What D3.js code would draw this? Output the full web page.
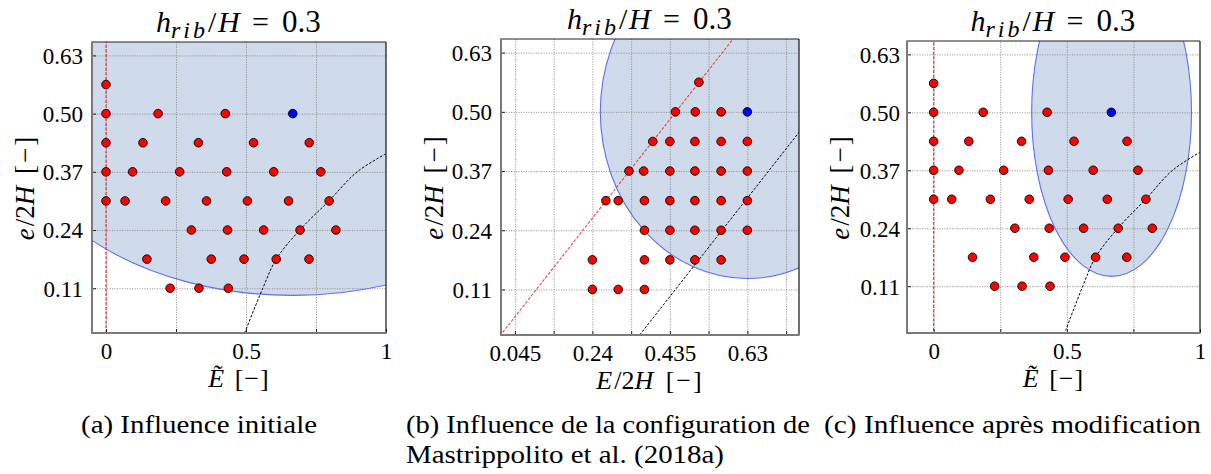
<!DOCTYPE html>
<html><head><meta charset="utf-8">
<script src="https://cdn.jsdelivr.net/npm/d3@7"></script>
<style>
body{margin:0;background:#fff}
svg{display:block}
svg text{font-family:'Liberation Serif','DejaVu Serif',serif !important;fill:#000}
</style>
</head><body>
<svg id="chart" width="1211" height="474" font-family="Liberation Serif, DejaVu Serif, serif"></svg>
<script>
// ---------------- data ----------------
const yTickValues = [0.11, 0.24, 0.37, 0.50, 0.63];
const yTickLabels = ["0.11", "0.24", "0.37", "0.50", "0.63"];
const normTickValues = [0, 0.5, 1];
const normTickLabels = ["0", "0.5", "1"];
const normGridValues = [0, 0.25, 0.5, 0.75, 1];
const rawTickValues = [0.045, 0.24, 0.435, 0.63];
const rawTickLabels = ["0.045", "0.24", "0.435", "0.63"];
const rawGridValues = [0.045, 0.1425, 0.24, 0.3375, 0.435, 0.5325, 0.63, 0.7275];

// tested configurations: e/2H, normalised E~, and E/2H
const pointE = [0.565,
  0.50, 0.50, 0.50,
  0.435, 0.435, 0.435, 0.435, 0.435,
  0.37, 0.37, 0.37, 0.37, 0.37, 0.37,
  0.305, 0.305, 0.305, 0.305, 0.305, 0.305, 0.305,
  0.24, 0.24, 0.24, 0.24, 0.24,
  0.175, 0.175, 0.175, 0.175, 0.175,
  0.11, 0.11, 0.11];
const pointNorm = [0,
  0, 0.186, 0.426,
  0, 0.132, 0.330, 0.527, 0.726,
  0, 0.095, 0.263, 0.431, 0.599, 0.767,
  0, 0.068, 0.213, 0.359, 0.505, 0.652, 0.797,
  0.305, 0.434, 0.563, 0.693, 0.821,
  0.146, 0.376, 0.493, 0.608, 0.725,
  0.229, 0.332, 0.437];
const pointRaw = [0.508,
  0.449, 0.499, 0.564,
  0.392, 0.435, 0.498, 0.564, 0.63,
  0.332, 0.369, 0.435, 0.498, 0.564, 0.63,
  0.274, 0.305, 0.371, 0.435, 0.498, 0.564, 0.63,
  0.371, 0.435, 0.498, 0.564, 0.63,
  0.24, 0.371, 0.435, 0.498, 0.564,
  0.24, 0.305, 0.371];
// reference configuration (blue)
const refE = [0.50];
const refNorm = [0.667];
const refRaw = [0.63];

// upper bound (black dashed)
const boundNormX = [0.495, 0.56, 0.608, 0.692, 0.796, 0.897, 0.999];
const boundNormY = [0.01, 0.11, 0.175, 0.24, 0.305, 0.37, 0.41];
const boundRawX = [0.359, 0.76];
const boundRawY = [0.01, 0.455];
// lower bound (red dashed)
const limNormX = [0, 0];
const limNormY = [0.0, 0.7];
const limRawX = [0.0, 0.63];
const limRawY = [0.0, 0.70];

// influence region (ellipse), per panel a, b, c
const regionCX = [0.667, 0.63, 0.668];
const regionCY = [0.50, 0.50, 0.50];
const regionRX = [1.0, 0.37, 0.30];
const regionRY = [0.406, 0.366, 0.368];

const captionLines = [
  ["(a) Influence initiale"],
  ["(b) Influence de la configuration de", "Mastrippolito et al. (2018a)"],
  ["(c) Influence après modification"]
];

// ---------------- layout ----------------
const panels = [
  {box: [92, 386, 42, 333], xd: [-0.05, 1.0], yd: [0.01, 0.66], kind: "norm",
   cap: {x: 81, w: [236], adj: ["spacingAndGlyphs"]}},
  {box: [501, 799, 39, 335], xd: [0.01, 0.76], yd: [0.01, 0.66], kind: "raw",
   cap: {x: 406, w: [404, 318], adj: ["spacingAndGlyphs", "spacingAndGlyphs"]}},
  {box: [907, 1200, 41, 333], xd: [-0.1, 1.0], yd: [0.005, 0.66], kind: "norm",
   cap: {x: 824, w: [377], adj: ["spacingAndGlyphs"]}}
];

const FONT = "'Liberation Serif','DejaVu Serif',serif";
const svg = d3.select("#chart");
svg.append("rect").attr("width", 1211).attr("height", 474).attr("fill", "#fff");
const defs = svg.append("defs");

const FILL = "#cfdbea", EDGE = "#5f6ff2";

panels.forEach((p, i) => {
  const [L, R, T, B] = p.box;
  const x = d3.scaleLinear().domain(p.xd).range([L, R]);
  const y = d3.scaleLinear().domain(p.yd).range([B, T]);
  const isNorm = p.kind === "norm";
  const xs = isNorm ? pointNorm : pointRaw;
  const refX = isNorm ? refNorm : refRaw;

  defs.append("clipPath").attr("id", "clip" + i)
    .append("rect").attr("x", L).attr("y", T).attr("width", R - L).attr("height", B - T);

  const g = svg.append("g").attr("font-family", FONT);
  const inner = g.append("g").attr("clip-path", `url(#clip${i})`);

  // region fill
  const ell = () => inner.append("ellipse")
    .attr("cx", x(regionCX[i])).attr("cy", y(regionCY[i]))
    .attr("rx", x(regionCX[i] + regionRX[i]) - x(regionCX[i]))
    .attr("ry", y(regionCY[i]) - y(regionCY[i] + regionRY[i]));
  ell().attr("fill", FILL).attr("stroke", "none");

  // grid
  const gx = inner.append("g").attr("transform", `translate(0,${B})`)
    .call(d3.axisBottom(x).tickValues(isNorm ? normGridValues : rawGridValues)
      .tickSize(-(B - T)).tickFormat(""));
  gx.select(".domain").remove();
  gx.selectAll("line").attr("stroke", "#909090").attr("stroke-width", 0.9)
    .attr("stroke-dasharray", "1.2,1.3");
  const gy = inner.append("g").attr("transform", `translate(${L},0)`)
    .call(d3.axisLeft(y).tickValues(yTickValues).tickSize(-(R - L)).tickFormat(""));
  gy.select(".domain").remove();
  gy.selectAll("line").attr("stroke", "#909090").attr("stroke-width", 0.9)
    .attr("stroke-dasharray", "1.2,1.3");

  // region edge
  ell().attr("fill", "none").attr("stroke", EDGE).attr("stroke-width", 1.1);

  // lower limit (red dashed)
  const line = d3.line().x(d => x(d[0])).y(d => y(d[1]));
  const lim = isNorm ? d3.zip(limNormX, limNormY) : d3.zip(limRawX, limRawY);
  inner.append("path").attr("d", line(lim)).attr("fill", "none")
    .attr("stroke", "#f03030").attr("stroke-width", isNorm ? 1.3 : 1.1)
    .attr("stroke-dasharray", "3,1.6").attr("opacity", 0.9);

  // upper limit (black dashed)
  const bnd = isNorm ? d3.zip(boundNormX, boundNormY) : d3.zip(boundRawX, boundRawY);
  inner.append("path").attr("d", line.curve(d3.curveCatmullRom)(bnd)).attr("fill", "none")
    .attr("stroke", "#000").attr("stroke-width", 1).attr("stroke-dasharray", "2.6,1.6");

  // points
  g.append("g").selectAll("circle").data(d3.zip(xs, pointE)).join("circle")
    .attr("cx", d => x(d[0])).attr("cy", d => y(d[1])).attr("r", 4.3)
    .attr("fill", "#ff0000").attr("stroke", "#000").attr("stroke-width", 0.9);
  g.append("g").selectAll("circle").data(d3.zip(refX, refE)).join("circle")
    .attr("cx", d => x(d[0])).attr("cy", d => y(d[1])).attr("r", 4.3)
    .attr("fill", "#0000ff").attr("stroke", "#000").attr("stroke-width", 0.9);

  // inward ticks
  const tb = g.append("g").attr("transform", `translate(0,${B})`)
    .call(d3.axisBottom(x).tickValues(isNorm ? normGridValues : rawGridValues).tickSize(-4).tickFormat(""));
  tb.select(".domain").remove();
  tb.selectAll("line").attr("stroke", "#222");
  const tl = g.append("g").attr("transform", `translate(${L},0)`)
    .call(d3.axisLeft(y).tickValues(yTickValues).tickSize(-4).tickFormat(""));
  tl.select(".domain").remove();
  tl.selectAll("line").attr("stroke", "#222");

  // spines
  g.append("line").attr("x1", L).attr("x2", R).attr("y1", T).attr("y2", T).attr("stroke", "#222").attr("stroke-width", 1.2);
  g.append("line").attr("x1", R).attr("x2", R).attr("y1", T).attr("y2", B).attr("stroke", "#111").attr("stroke-width", 1.2);
  g.append("line").attr("x1", L).attr("x2", L).attr("y1", T - 0.6).attr("y2", B + 1).attr("stroke", "#7a7a7a").attr("stroke-width", 2);
  g.append("line").attr("x1", L - 1).attr("x2", R + 0.6).attr("y1", B).attr("y2", B).attr("stroke", "#7a7a7a").attr("stroke-width", 2);

  // tick labels
  const ax = g.append("g").attr("transform", `translate(0,${B})`)
    .call(d3.axisBottom(x).tickValues(isNorm ? normTickValues : rawTickValues)
      .tickFormat((d, j) => (isNorm ? normTickLabels : rawTickLabels)[j]).tickSize(0).tickPadding(10));
  ax.select(".domain").remove();
  ax.attr("font-family", FONT).attr("font-size", null);
  ax.selectAll("text").style("font-size", "23px");
  const ay = g.append("g").attr("transform", `translate(${L},0)`)
    .call(d3.axisLeft(y).tickValues(yTickValues).tickFormat((d, j) => yTickLabels[j])
      .tickSize(0).tickPadding(i === 2 ? 7 : 9));
  ay.select(".domain").remove();
  ay.attr("font-family", FONT).attr("font-size", null);
  ay.selectAll("text").style("font-size", "23px").attr("dy", "0.34em");

  // title  h_rib / H = 0.3
  const cx = (L + R) / 2, tb0 = T - 10;
  const piece = (s, dx, opt) => {
    const t = g.append("text").attr("x", cx + dx).attr("y", tb0 + (opt.dy || 0)).text(s)
      .style("font-size", (opt.size || 30) + "px");
    if (opt.it) t.style("font-style", "italic");
    if (opt.ls) t.style("letter-spacing", opt.ls + "px");
    return t;
  };
  piece("h", -83, {it: true});
  piece("rib", -68, {it: true, size: 24, dy: 6, ls: 3});
  piece("/", -31, {});
  piece("H", -21, {it: true});
  piece("=", 13, {});
  piece("0.3", 43, {size: 31});

  // x label
  const xl = g.append("text").attr("x", (L + R) / 2).attr("y", B + 54)
    .attr("text-anchor", "middle").style("font-size", "26px");
  if (isNorm) {
    xl.append("tspan").style("font-style", "italic").text("Ẽ");
    xl.append("tspan").text(" [−]").attr("dx", 3).style("letter-spacing", "1px");
  } else {
    xl.append("tspan").style("font-style", "italic").text("E");
    xl.append("tspan").text("/2").attr("dx", 2);
    xl.append("tspan").style("font-style", "italic").text("H");
    xl.append("tspan").text(" [−]").attr("dx", 4).style("letter-spacing", "2px");
  }

  // y label
  const yl = g.append("text")
    .attr("transform", `translate(${L - 58},${(T + B) / 2}) rotate(-90)`)
    .attr("text-anchor", "middle").style("font-size", "27px");
  yl.append("tspan").style("font-style", "italic").text("e");
  yl.append("tspan").text("/2").attr("dx", 2);
  yl.append("tspan").style("font-style", "italic").text("H");
  yl.append("tspan").text(" [−]").attr("dx", 3).style("letter-spacing", "2px");

  // caption
  captionLines[i].forEach((s, k) => {
    g.append("text").attr("x", p.cap.x).attr("y", 433 + k * 30).text(s)
      .style("font-size", "26px")
      .attr("textLength", p.cap.w[k]).attr("lengthAdjust", p.cap.adj[k]);
  });
});
</script>
</body></html>
